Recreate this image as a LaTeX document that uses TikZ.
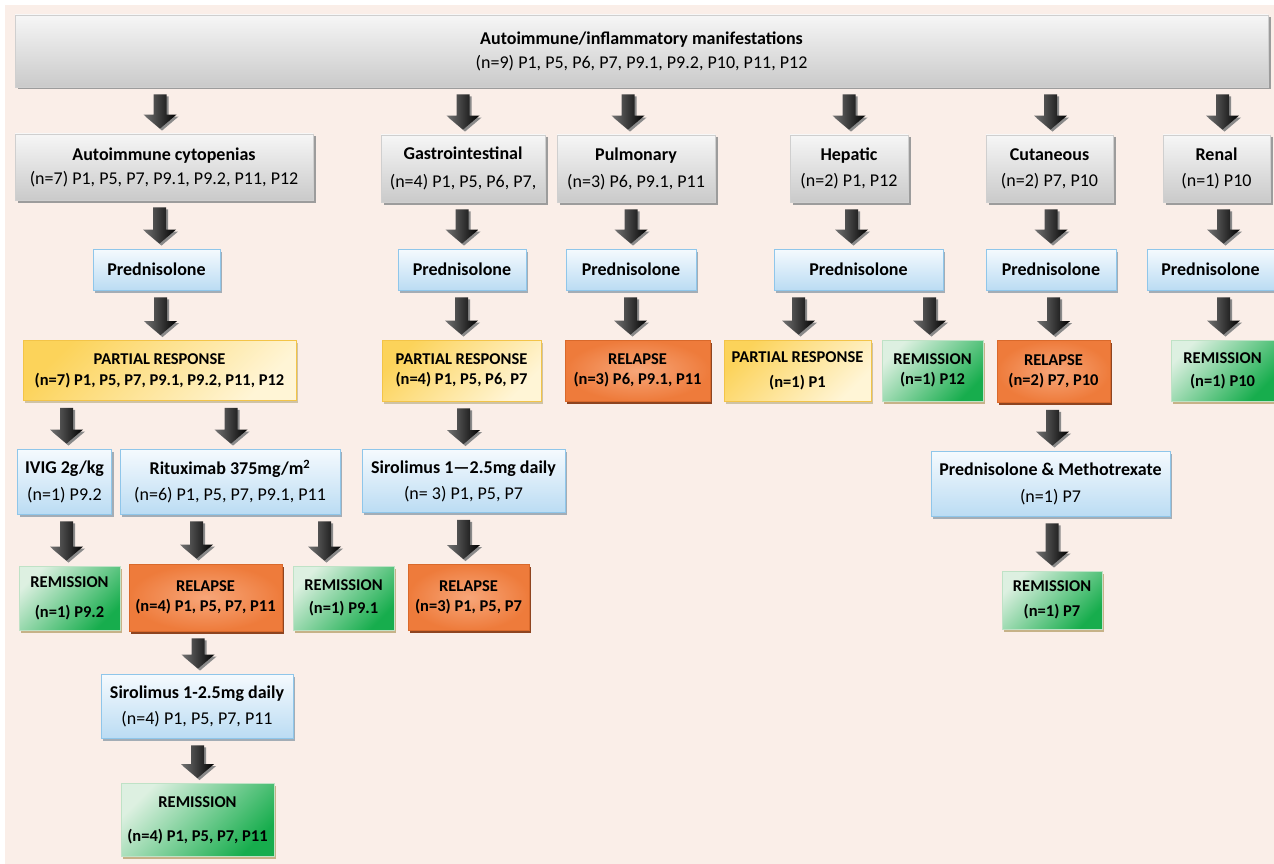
\documentclass[tikz,border=0pt]{standalone}
\usepackage{fontspec}
\setmainfont{Carlito}
\usetikzlibrary{calc,shadows}
\definecolor{bgc}{HTML}{FAEEE8}
\definecolor{grayT}{HTML}{F6F6F6}
\definecolor{grayB}{HTML}{CACACA}
\definecolor{grayD}{HTML}{CFCFCF}
\definecolor{grayS}{HTML}{9C9C9C}
\definecolor{blueT}{HTML}{F5FAFE}
\definecolor{blueB}{HTML}{BBDCF3}
\definecolor{blueD}{HTML}{8FC6EA}
\definecolor{blueS}{HTML}{A3ADB6}
\definecolor{yelT}{HTML}{FCD35A}
\definecolor{yelB}{HTML}{FFF5D6}
\definecolor{yelD}{HTML}{F3C448}
\definecolor{yelS}{HTML}{CFC3A6}
\definecolor{orI}{HTML}{F7A679}
\definecolor{orO}{HTML}{EE7B3B}
\definecolor{orD}{HTML}{D9692B}
\definecolor{orS}{HTML}{8E4420}
\definecolor{grT}{HTML}{DDF0E1}
\definecolor{grB}{HTML}{17AD4D}
\definecolor{grD}{HTML}{BFE2C6}
\definecolor{grS}{HTML}{C6B288}
\definecolor{arrS}{HTML}{8A8A8A}
\tikzset{
  box/.style={anchor=center, inner sep=0pt, align=center, font=\fontsize{18}{22}\selectfont, line width=0.8pt},
  boldbox/.style={box, font=\fontsize{16.5}{22}\selectfont\bfseries},
  graybox/.style={box, top color=grayT, bottom color=grayB, draw=grayD,
    drop shadow={shadow xshift=2.5pt, shadow yshift=-2.5pt, fill=grayS, opacity=1}},
  bluebox/.style={box, top color=blueT, bottom color=blueB, draw=blueD,
    drop shadow={shadow xshift=2pt, shadow yshift=-2.5pt, fill=blueS, opacity=1}},
  yelbox/.style={boldbox, top color=yelT, bottom color=yelB, shading angle=45, draw=yelD,
    drop shadow={shadow xshift=1.5pt, shadow yshift=-2.5pt, fill=yelS, opacity=1}},
  orbox/.style={boldbox, inner color=orI, outer color=orO, draw=orD,
    drop shadow={shadow xshift=1.5pt, shadow yshift=-2.5pt, fill=orS, opacity=1}},
  grbox/.style={boldbox, top color=grT, bottom color=grB, shading angle=45, draw=grD,
    drop shadow={shadow xshift=1.5pt, shadow yshift=-2.5pt, fill=grS, opacity=1}},
  arrshadow/.style={fill=arrS},
  arrbody/.style={left color=black!55, right color=black},
}
\newcommand{\arrpath}[2]{($(#1)+(-6.5,0)$) -- ($(#1)+(6.5,0)$) -- ($(#2)+(6.5,-14)$) -- ($(#2)+(16.5,-14)$) -- (#2) -- ($(#2)+(-16.5,-14)$) -- ($(#2)+(-6.5,-14)$) -- cycle}
\newcommand{\barr}[3][0]{%
  \path let \p1=(#2.south), \p2=(#3.north) in
    coordinate (arT) at (\x2+#1pt,\y1-7pt)
    coordinate (arB) at (\x2+#1pt,\y2+5pt)
    coordinate (shT) at (\x2+#1pt+2pt,\y1-9pt)
    coordinate (shB) at (\x2+#1pt+2pt,\y2+3pt);
  \fill[arrshadow] \arrpath{shT}{shB};
  \shade[arrbody] \arrpath{arT}{arB};
}
\begin{document}
\begin{tikzpicture}[x=1pt,y=-1pt]
\useasboundingbox (0,0) rectangle (1274,864);
\fill[white] (0,0) rectangle (1274,864);
\fill[bgc] (5,5) rectangle (1274,864);

% level 1
\node[graybox, minimum width=1253pt, minimum height=72pt] (top) at (641.5,51)
  {\textbf{Autoimmune/inflammatory manifestations}\\[2pt](n=9) P1, P5, P6, P7, P9.1, P9.2, P10, P11, P12};

% level 2
\node[graybox, minimum width=298pt, minimum height=66pt] (cyto) at (164,167)
  {\textbf{Autoimmune cytopenias}\\[2pt](n=7) P1, P5, P7, P9.1, P9.2, P11, P12};
\node[graybox, minimum width=164pt, minimum height=67pt] (gi) at (463,168.5)
  {\textbf{Gastrointestinal}\\[6pt](n=4) P1, P5, P6, P7,};
\node[graybox, minimum width=158pt, minimum height=67pt] (pulm) at (636,168.5)
  {\textbf{Pulmonary}\\[5pt](n=3) P6, P9.1, P11};
\node[graybox, minimum width=118pt, minimum height=67pt] (hep) at (849,168.5)
  {\textbf{Hepatic}\\[4pt](n=2) P1, P12};
\node[graybox, minimum width=127pt, minimum height=67pt] (cut) at (1049.5,168.5)
  {\textbf{Cutaneous}\\[4pt](n=2) P7, P10};
\node[graybox, minimum width=107pt, minimum height=67pt] (ren) at (1216.5,168.5)
  {\textbf{Renal}\\[4pt](n=1) P10};

% prednisolone
\node[bluebox, minimum width=127pt, minimum height=41pt] (pc) at (156.5,269.5) {\textbf{Prednisolone}};
\node[bluebox, minimum width=128pt, minimum height=41pt] (pg) at (462,269.5) {\textbf{Prednisolone}};
\node[bluebox, minimum width=130pt, minimum height=41pt] (pp) at (631,269.5) {\textbf{Prednisolone}};
\node[bluebox, minimum width=169pt, minimum height=41pt] (ph) at (858.5,269.5) {\textbf{Prednisolone}};
\node[bluebox, minimum width=130pt, minimum height=41pt] (pcu) at (1051,269.5) {\textbf{Prednisolone}};
\node[bluebox, minimum width=127pt, minimum height=41pt] (pr) at (1210.5,269.5) {\textbf{Prednisolone}};

% row 3
\node[yelbox, minimum width=273pt, minimum height=60pt] (prc) at (159.5,370.5)
  {PARTIAL RESPONSE\\[-1pt](n=7) P1, P5, P7, P9.1, P9.2, P11, P12};
\node[yelbox, minimum width=159pt, minimum height=61pt] (prg) at (461.5,370.5)
  {PARTIAL RESPONSE\\[-2pt](n=4) P1, P5, P6, P7};
\node[orbox, minimum width=145pt, minimum height=61pt] (relp) at (637.5,370.5)
  {RELAPSE\\[-2pt](n=3) P6, P9.1, P11};
\node[yelbox, minimum width=147pt, minimum height=61pt] (prh) at (797.5,370.5)
  {PARTIAL RESPONSE\\[3pt](n=1) P1};
\node[grbox, minimum width=101pt, minimum height=61pt] (remh) at (932.5,370.5)
  {REMISSION\\[-2pt](n=1) P12};
\node[orbox, minimum width=113pt, minimum height=62pt] (relc) at (1053.5,371.5)
  {RELAPSE\\[-2pt](n=2) P7, P10};
\node[grbox, minimum width=103pt, minimum height=61pt] (remr) at (1222.5,370.5)
  {REMISSION\\[1pt](n=1) P10};

% row 4
\node[bluebox, minimum width=94pt, minimum height=65pt] (ivig) at (64.5,481.5)
  {\textbf{IVIG 2g/kg}\\[5pt](n=1) P9.2};
\node[bluebox, minimum width=220pt, minimum height=65pt] (rit) at (230,481.5)
  {\textbf{Rituximab 375mg/m\textsuperscript{2}}\\[4pt](n=6) P1, P5, P7, P9.1, P11};
\node[bluebox, minimum width=203pt, minimum height=63pt] (sir1) at (463.5,481)
  {\textbf{Sirolimus 1—2.5mg daily}\\[4pt](n= 3) P1, P5, P7};
\node[bluebox, minimum width=239pt, minimum height=65pt] (pm) at (1050.5,483.5)
  {\textbf{Prednisolone \& Methotrexate}\\[5pt](n=1) P7};

% row 5
\node[grbox, minimum width=101pt, minimum height=64pt] (rem92) at (69.5,598)
  {REMISSION\\[8pt](n=1) P9.2};
\node[orbox, minimum width=153pt, minimum height=67pt] (rel4) at (205.5,597.5)
  {RELAPSE\\[-2pt](n=4) P1, P5, P7, P11};
\node[grbox, minimum width=101pt, minimum height=64pt] (rem91) at (343.5,598)
  {REMISSION\\[1pt](n=1) P9.1};
\node[orbox, minimum width=121pt, minimum height=66pt] (relg) at (468.5,597.5)
  {RELAPSE\\[-2pt](n=3) P1, P5, P7};
\node[grbox, minimum width=100pt, minimum height=58pt] (rem7) at (1052,600)
  {REMISSION\\[3pt](n=1) P7};

% rows 6-7
\node[bluebox, minimum width=192pt, minimum height=64pt] (sir2) at (197,706)
  {\textbf{Sirolimus 1-2.5mg daily}\\[4pt](n=4) P1, P5, P7, P11};
\node[grbox, minimum width=153pt, minimum height=73pt] (remf) at (197.5,820)
  {REMISSION\\[12pt](n=4) P1, P5, P7, P11};

% arrows
\barr[-4]{top}{cyto}
\barr{top}{gi}
\barr[-8]{top}{pulm}
\barr{top}{hep}
\barr[1]{top}{cut}
\barr[6]{top}{ren}
\barr[3]{cyto}{pc}
\barr{gi}{pg}
\barr{pulm}{pp}
\barr[-7]{hep}{ph}
\barr{cut}{pcu}
\barr[13]{ren}{pr}
\barr[1]{pc}{prc}
\barr{pg}{prg}
\barr[-7]{pp}{relp}
\barr[1]{ph}{prh}
\barr[-3]{ph}{remh}
\barr{pcu}{relc}
\barr[1]{pr}{remr}
\barr[2]{prc}{ivig}
\barr[1]{prc}{rit}
\barr{prg}{sir1}
\barr[2]{relc}{pm}
\barr[-3]{ivig}{rem92}
\barr[-9]{rit}{rel4}
\barr[-19]{rit}{rem91}
\barr[-5]{sir1}{relg}
\barr{pm}{rem7}
\barr[1]{rel4}{sir2}
\barr{sir2}{remf}
\end{tikzpicture}
\end{document}
